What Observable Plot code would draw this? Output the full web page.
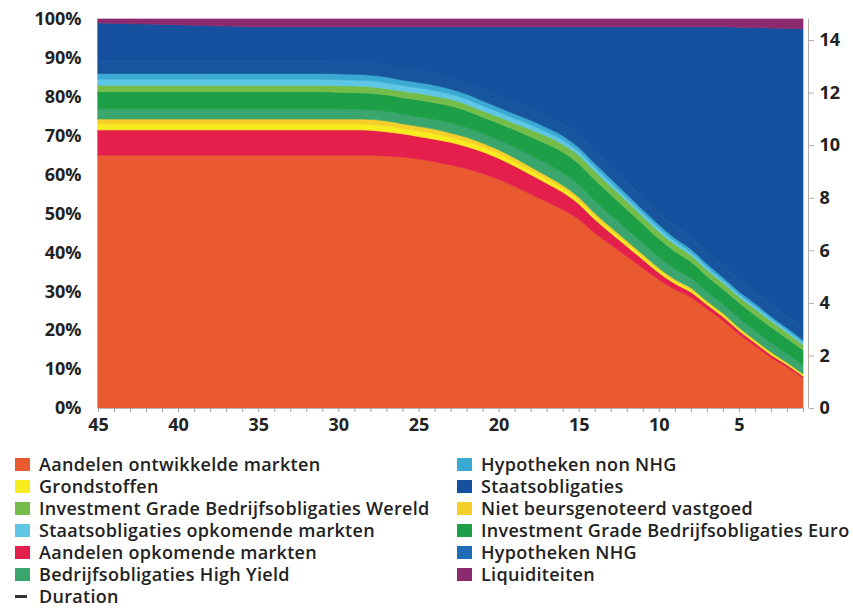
<!DOCTYPE html>
<html><head><meta charset="utf-8">
<script src="https://cdn.jsdelivr.net/npm/d3@7"></script>
<script src="https://cdn.jsdelivr.net/npm/@observablehq/plot@0.6"></script>
<style>
body{margin:0;background:#fff;font-family:"Open Sans",sans-serif;}
#chart svg{display:block;}
#legend{position:relative;width:853px;height:173px;}
.item{position:absolute;height:22px;line-height:22px;font-size:18px;letter-spacing:0.3px;font-weight:600;color:#222;white-space:nowrap;}
.sw{position:absolute;top:5px;width:15px;height:13px;}
.ln{position:absolute;top:10px;width:12px;height:3px;background:#333;}
</style></head><body>
<div id="chart"></div>
<div id="legend"></div>
<script>
// Years to retirement (x), left to right
const years = [45,44,43,42,41,40,39,38,37,36,35,34,33,32,31,30,29,28,27,26,25,24,23,22,21,20,19,18,17,16,15,14,13,12,11,10,9,8,7,6,5,4,3,2,1];
const xTickLabels = [45,40,35,30,25,20,15,10,5];
const yTicks = [0,10,20,30,40,50,60,70,80,90,100];
const durationTicks = [0,2,4,6,8,10,12,14];
const durationMax = 14.8;

// Allocation in % per year (stacked bottom to top)
const aandelenOntwikkeld = [65,65,65,65,65,65,65,65,65,65, 65,65,65,65,65,65,65,65,64.8,64.5, 64,63.3,62.5,61.5,60.3,58.8,57,55,53,51, 48.5,45,42,39,36,33,30.5,28.5,25.5,22.5, 19,16,13,10.5,7.7];
const aandelenOpkomend = [6.5,6.5,6.5,6.5,6.5,6.5,6.5,6.5,6.5,6.5, 6.5,6.5,6.5,6.5,6.5,6.5,6.5,6.4,6.2,6.0, 5.8,5.8,5.8,5.7,5.6,5.4,5.2,5.0,4.8,4.5, 4.0,3.5,3.0,2.6,2.2,1.8,1.5,1.3,1.1,1.0, 0.9,0.8,0.7,0.6,0.5];
const grondstoffen = [1.5,1.5,1.5,1.5,1.5,1.5,1.5,1.5,1.5,1.5, 1.5,1.5,1.5,1.5,1.5,1.5,1.5,1.5,1.5,1.4, 1.4,1.4,1.3,1.3,1.2,1.2,1.1,1.1,1.0,1.0, 0.9,0.9,0.8,0.8,0.7,0.7,0.6,0.6,0.5,0.5, 0.4,0.4,0.4,0.3,0.3];
const nietBeurs = [1.3,1.3,1.3,1.3,1.3,1.3,1.3,1.3,1.3,1.3, 1.3,1.3,1.3,1.3,1.3,1.3,1.3,1.3,1.3,1.2, 1.2,1.2,1.1,1.1,1.0,1.0,1.0,0.9,0.9,0.8, 0.8,0.7,0.7,0.6,0.6,0.5,0.5,0.5,0.4,0.4, 0.4,0.3,0.3,0.3,0.3];
const highYield = [2.6,2.6,2.6,2.6,2.6,2.6,2.6,2.6,2.6,2.6, 2.6,2.6,2.6,2.6,2.6,2.6,2.5,2.5,2.5,2.5, 2.5,2.5,2.6,2.5,2.5,2.5,2.7,2.9,3.1,3.2, 3.2,3.2,3.1,3.0,2.9,2.8,2.7,2.5,2.4,2.3, 2.4,2.4,2.4,2.3,2.3];
const igEuro = [4.4,4.4,4.4,4.4,4.4,4.4,4.4,4.4,4.4,4.4, 4.4,4.4,4.4,4.4,4.4,4.3,4.3,4.2,4.2,4.2, 4.3,4.3,4.4,4.3,4.2,4.3,4.5,4.8,5.1,5.3, 5.4,5.4,5.3,5.1,4.9,4.7,4.5,4.2,4.0,3.9, 4.0,4.0,4.0,3.9,3.8];
const igWereld = [1.7,1.7,1.7,1.7,1.7,1.7,1.7,1.7,1.7,1.7, 1.7,1.7,1.7,1.7,1.7,1.7,1.7,1.7,1.6,1.7, 1.7,1.7,1.7,1.7,1.6,1.7,1.7,1.9,2.0,2.0, 2.2,2.2,2.1,2.1,1.9,1.9,1.8,1.7,1.6,1.6, 1.5,1.6,1.6,1.5,1.4];
const staatsOpkomend = [1.5,1.5,1.5,1.5,1.5,1.5,1.5,1.5,1.5,1.5, 1.5,1.5,1.5,1.5,1.5,1.5,1.5,1.5,1.5,1.4, 1.4,1.4,1.3,1.3,1.3,1.2,1.2,1.2,1.1,1.1, 1.0,1.0,1.0,0.9,0.9,0.9,0.8,0.8,0.8,0.7, 0.7,0.7,0.6,0.6,0.6];
const hypNonNHG = [1.5,1.5,1.5,1.5,1.5,1.5,1.5,1.5,1.5,1.5, 1.5,1.5,1.5,1.5,1.5,1.5,1.5,1.5,1.5,1.4, 1.4,1.4,1.3,1.3,1.3,1.2,1.2,1.2,1.1,1.1, 1.0,1.0,1.0,0.9,0.9,0.9,0.8,0.8,0.8,0.7, 0.7,0.7,0.6,0.6,0.6];
const hypNHG = [3,3,3,3,3,3,3,3,3,3, 3,3,3,3,3,3,3,3,3,3, 3,3,3,3,3,3,3,3,3,3, 3,3,3,3,3,3,3,3,3,3, 3,3,3,3,3];
const staatsobligaties = [10.0,9.9,9.8,9.7,9.6,9.5,9.4,9.3,9.2,9.1, 9.0,9.0,9.0,9.0,9.0,9.1,9.2,9.4,9.9,10.7, 11.3,12.0,13.0,14.3,16.0,17.7,19.4,21.0,22.9,25.0, 28.0,32.1,36.0,40.0,44.0,47.8,51.3,54.1,57.9,61.4, 64.9,67.9,71.1,74.0,77.0];
const liquiditeiten = [1.0,1.1,1.2,1.3,1.4,1.5,1.6,1.7,1.8,1.9, 2,2,2,2,2,2,2,2,2,2, 2,2,2,2,2,2,2,2,2,2, 2,2,2,2,2,2,2,2,2,2, 2.1,2.2,2.3,2.4,2.5];

const seriesNames = ["Aandelen ontwikkelde markten","Aandelen opkomende markten","Grondstoffen","Niet beursgenoteerd vastgoed","Bedrijfsobligaties High Yield","Investment Grade Bedrijfsobligaties Euro","Investment Grade Bedrijfsobligaties Wereld","Staatsobligaties opkomende markten","Hypotheken non NHG","Hypotheken NHG","Staatsobligaties","Liquiditeiten"];
const seriesValues = [aandelenOntwikkeld,aandelenOpkomend,grondstoffen,nietBeurs,highYield,igEuro,igWereld,staatsOpkomend,hypNonNHG,hypNHG,staatsobligaties,liquiditeiten];
const seriesColors = ["#e95a31","#e41f4c","#f7ec1e","#f6cf2a","#3aa56c","#1d9f48","#74bd4a","#5ec7e6","#3aaad2","#17559f","#15519f","#8b2a6f"];
const legendColors = {"Hypotheken NHG": "#1f6db6"};

const legendCol1 = ["Aandelen ontwikkelde markten","Grondstoffen","Investment Grade Bedrijfsobligaties Wereld","Staatsobligaties opkomende markten","Aandelen opkomende markten","Bedrijfsobligaties High Yield","Duration"];
const legendCol2 = ["Hypotheken non NHG","Staatsobligaties","Niet beursgenoteerd vastgoed","Investment Grade Bedrijfsobligaties Euro","Hypotheken NHG","Liquiditeiten"];

const rows = [];
seriesNames.forEach((s, i) => years.forEach((yr, j) => rows.push({series: s, year: yr, value: seriesValues[i][j]})));

const k = 100 / durationMax;
const chart = Plot.plot({
  width: 853, height: 438,
  marginLeft: 98, marginRight: 50, marginTop: 19, marginBottom: 30,
  x: {domain: [45, 1]},
  y: {domain: [0, 100]},
  color: {domain: seriesNames, range: seriesColors},
  style: {fontFamily: "'Open Sans', sans-serif", fontSize: "18px", fontWeight: "700", color: "#222", background: "#fff"},
  marks: [
    Plot.areaY(rows, Plot.stackY({x: "year", y: "value", z: "series", fill: "series", stroke: "series", strokeWidth: 0.7, order: seriesNames, curve: "monotone-x"})),
    Plot.ruleY([0], {stroke: "#b5b5b5"}),
    Plot.axisX({ticks: years, tickSize: 4, tickFormat: () => "", stroke: "#a0a0a0", label: null}),
    Plot.axisX({ticks: xTickLabels, tickSize: 0, tickPadding: 10, label: null, fill: "#222"}),
    Plot.axisY({ticks: yTicks, tickSize: 0, tickPadding: 17, tickFormat: d => d + "%", label: null, fill: "#222"}),
    Plot.ruleX([1], {dx: 5, stroke: "#b9aca4"}),
    Plot.axisY(durationTicks.map(d => d * k), {anchor: "right", dx: 5, tickSize: 5, tickPadding: 6, stroke: "#b9aca4", tickFormat: d => String(Math.round(d / k)), label: null, fill: "#222"})
  ]
});
document.getElementById("chart").appendChild(chart);

const legend = document.getElementById("legend");
const colorOf = name => legendColors[name] || seriesColors[seriesNames.indexOf(name)];
function addItem(name, col, row) {
  const left = col === 0 ? 15 : 457;
  const div = document.createElement("div");
  div.className = "item";
  div.style.left = left + "px";
  div.style.top = (15 + row * 22) + "px";
  div.style.paddingLeft = "24px";
  const mark = document.createElement("span");
  if (name === "Duration") { mark.className = "ln"; mark.style.left = "0px"; }
  else { mark.className = "sw"; mark.style.left = "0px"; mark.style.background = colorOf(name); }
  div.appendChild(mark);
  div.appendChild(document.createTextNode(name));
  legend.appendChild(div);
}
legendCol1.forEach((n, i) => addItem(n, 0, i));
legendCol2.forEach((n, i) => addItem(n, 1, i));
</script>
</body></html>
